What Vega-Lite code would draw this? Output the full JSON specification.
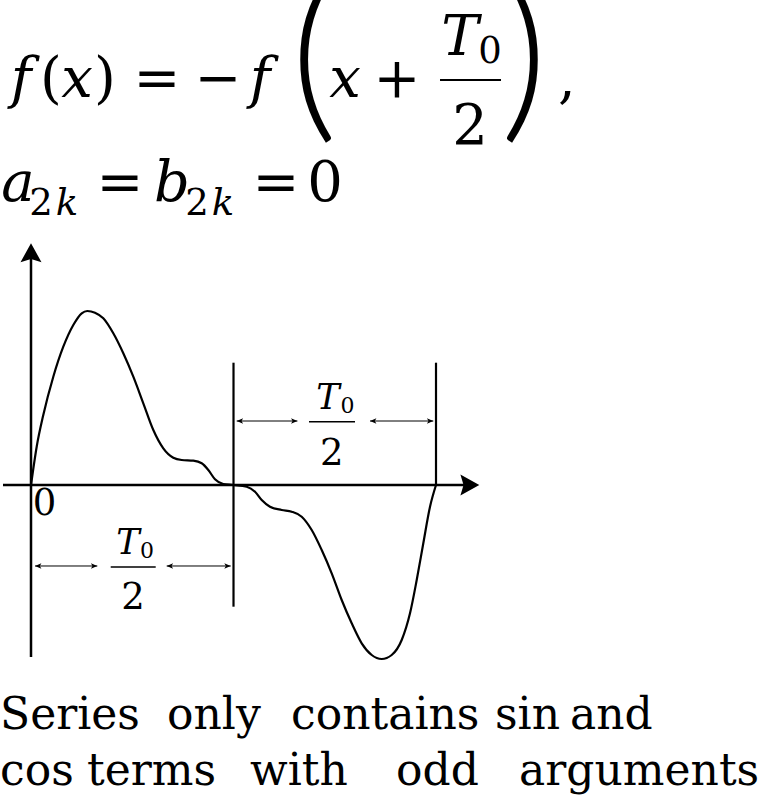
{
  "$schema": "https://vega.github.io/schema/vega-lite/v6.json",
  "width": 761,
  "height": 805,
  "autosize": "none",
  "padding": 0,
  "background": "white",
  "config": {"view": {"stroke": null}},
  "datasets": {
    "curve": [
      {"x": 0, "y": 0}, {"x": 0.0281, "y": 0.2201}, {"x": 0.0607, "y": 0.4023}, {"x": 0.1101, "y": 0.6224},
      {"x": 0.1595, "y": 0.7948}, {"x": 0.2089, "y": 0.9195}, {"x": 0.2504, "y": 0.9868}, {"x": 0.278, "y": 1.0},
      {"x": 0.316, "y": 0.9902}, {"x": 0.357, "y": 0.958}, {"x": 0.4064, "y": 0.8718}, {"x": 0.4558, "y": 0.7569},
      {"x": 0.5052, "y": 0.6224}, {"x": 0.5546, "y": 0.4695}, {"x": 0.604, "y": 0.3161}, {"x": 0.6533, "y": 0.2109},
      {"x": 0.7027, "y": 0.1569}, {"x": 0.7442, "y": 0.1437}, {"x": 0.8015, "y": 0.1397}, {"x": 0.843, "y": 0.1247},
      {"x": 0.8756, "y": 0.0862}, {"x": 0.9086, "y": 0.0328}, {"x": 0.9496, "y": 0.0057}, {"x": 1.0, "y": 0},
      {"x": 1.0652, "y": -0.0098}, {"x": 1.1062, "y": -0.0385}, {"x": 1.1393, "y": -0.0862}, {"x": 1.1802, "y": -0.1247},
      {"x": 1.238, "y": -0.1437}, {"x": 1.2874, "y": -0.1534}, {"x": 1.3368, "y": -0.1822}, {"x": 1.3862, "y": -0.2586},
      {"x": 1.4356, "y": -0.3736}, {"x": 1.4849, "y": -0.5075}, {"x": 1.5343, "y": -0.6609}, {"x": 1.5837, "y": -0.7948},
      {"x": 1.6331, "y": -0.9098}, {"x": 1.6825, "y": -0.977}, {"x": 1.7319, "y": -1.0}, {"x": 1.7812, "y": -0.977},
      {"x": 1.8306, "y": -0.8908}, {"x": 1.8716, "y": -0.7374}, {"x": 1.9047, "y": -0.546}, {"x": 1.9373, "y": -0.3351},
      {"x": 1.9704, "y": -0.1247}, {"x": 2.0, "y": 0}
    ],
    "thick": [
      {"x": 0, "y": -0.9885, "xe": 0, "ye": 1.33},
      {"x": -0.1383, "y": 0, "xe": 2.16, "ye": 0}
    ],
    "vlines": [
      {"x": 1.0, "y": -0.6994, "xe": 1.0, "ye": 0.7029},
      {"x": 2.0, "y": 0, "xe": 2.0, "ye": 0.7029}
    ],
    "arrows": [
      {"x": 1.0158, "xe": 1.3156, "y": 0.3678},
      {"x": 1.6741, "xe": 1.9867, "y": 0.3678},
      {"x": 0.0198, "xe": 0.3274, "y": -0.4655},
      {"x": 0.6701, "xe": 0.9862, "y": -0.4655}
    ],
    "bars": [
      {"x": 1.3728, "xe": 1.6, "y": 0.3638},
      {"x": 0.3936, "xe": 0.6158, "y": -0.4713}
    ],
    "fbar": [{"x": 2.0198, "xe": 2.321, "y": 2.3276}],
    "upArrow": [{"x": 0, "y": 1.3891}],
    "rightArrow": [{"x": 2.2138, "y": 0}],
    "mathItalic": [
      {"t": "f", "x": -0.0494, "y": 2.2299}, {"t": "x", "x": 0.2272, "y": 2.2299}, {"t": "f", "x": 1.1309, "y": 2.2299},
      {"t": "x", "x": 1.5506, "y": 2.2299}, {"t": "T", "x": 2.1185, "y": 2.4713},
      {"t": "a", "x": -0.0642, "y": 1.6322}, {"t": "b", "x": 0.6963, "y": 1.6322}
    ],
    "mathUpright": [
      {"t": "(", "x": 0.0988, "y": 2.2299}, {"t": ")", "x": 0.3654, "y": 2.2299}, {"t": "=", "x": 0.6222, "y": 2.2299},
      {"t": "−", "x": 0.9235, "y": 2.2299}, {"t": "+", "x": 1.8074, "y": 2.2299}, {"t": "2", "x": 2.1679, "y": 1.9598},
      {"t": ",", "x": 2.6469, "y": 2.2299}, {"t": "=", "x": 0.4395, "y": 1.6322}, {"t": "=", "x": 1.2099, "y": 1.6322},
      {"t": "0", "x": 1.4519, "y": 1.6322}
    ],
    "subUpright": [
      {"t": "0", "x": 2.2667, "y": 2.4253}, {"t": "2", "x": 0.0494, "y": 1.5517}, {"t": "2", "x": 0.8198, "y": 1.5517}
    ],
    "subItalic": [
      {"t": "k", "x": 0.1778, "y": 1.5517}, {"t": "k", "x": 0.9481, "y": 1.5517}
    ],
    "bigParen": [
      {"t": "(", "x": 1.3975, "y": 2.1092}, {"t": ")", "x": 2.4346, "y": 2.1092}
    ],
    "diagItalic": [
      {"t": "T", "x": 1.4667, "y": 0.4368}, {"t": "T", "x": 0.479, "y": -0.3966}
    ],
    "diagSub": [
      {"t": "0", "x": 1.563, "y": 0.4138}, {"t": "0", "x": 0.5728, "y": -0.4195}
    ],
    "diagUpright": [
      {"t": "2", "x": 1.4849, "y": 0.1149}, {"t": "2", "x": 0.5037, "y": -0.7144}, {"t": "0", "x": 0.0667, "y": -0.1724}
    ],
    "words": [
      {"t": "Series", "x": -0.1531, "y": -1.4023}, {"t": "only", "x": 0.6716, "y": -1.4023},
      {"t": "contains", "x": 1.284, "y": -1.4023}, {"t": "sin", "x": 2.2914, "y": -1.4023},
      {"t": "and", "x": 2.6617, "y": -1.4023},
      {"t": "cos", "x": -0.1531, "y": -1.7241}, {"t": "terms", "x": 0.2765, "y": -1.7241},
      {"t": "with", "x": 1.0815, "y": -1.7241}, {"t": "odd", "x": 1.8025, "y": -1.7241},
      {"t": "arguments", "x": 2.4099, "y": -1.7241}
    ]
  },
  "encoding": {
    "x": {"field": "x", "type": "quantitative", "scale": {"domain": [-0.1531, 3.6049], "nice": false, "zero": false}, "axis": null},
    "y": {"field": "y", "type": "quantitative", "scale": {"domain": [-1.8391, 2.7874], "nice": false, "zero": false}, "axis": null}
  },
  "layer": [
    {
      "data": {"name": "curve"},
      "mark": {"type": "line", "interpolate": "monotone", "color": "black", "strokeWidth": 2.2}
    },
    {
      "data": {"name": "thick"},
      "mark": {"type": "rule", "color": "black", "strokeWidth": 2.5},
      "encoding": {"x2": {"field": "xe"}, "y2": {"field": "ye"}}
    },
    {
      "data": {"name": "vlines"},
      "mark": {"type": "rule", "color": "black", "strokeWidth": 2.2},
      "encoding": {"x2": {"field": "xe"}, "y2": {"field": "ye"}}
    },
    {
      "data": {"name": "arrows"},
      "mark": {"type": "rule", "color": "black", "strokeWidth": 1},
      "encoding": {"x2": {"field": "xe"}}
    },
    {
      "data": {"name": "bars"},
      "mark": {"type": "rule", "color": "black", "strokeWidth": 1.6},
      "encoding": {"x2": {"field": "xe"}}
    },
    {
      "data": {"name": "fbar"},
      "mark": {"type": "rule", "color": "black", "strokeWidth": 2.2},
      "encoding": {"x2": {"field": "xe"}}
    },
    {
      "data": {"name": "arrows"},
      "mark": {"type": "point", "filled": true, "color": "black", "opacity": 1, "strokeWidth": 0, "size": 64, "shape": "M0,0 L1.6,-0.7 L1.2,0 L1.6,0.7 Z"}
    },
    {
      "data": {"name": "arrows"},
      "mark": {"type": "point", "filled": true, "color": "black", "opacity": 1, "strokeWidth": 0, "size": 64, "shape": "M0,0 L-1.6,-0.7 L-1.2,0 L-1.6,0.7 Z"},
      "encoding": {
        "x": {"field": "xe", "type": "quantitative", "scale": {"domain": [-0.1531, 3.6049], "nice": false, "zero": false}, "axis": null}
      }
    },
    {
      "data": {"name": "upArrow"},
      "mark": {"type": "point", "filled": true, "color": "black", "opacity": 1, "strokeWidth": 0, "size": 441, "shape": "M0,0 L1,1.8 L0,1.5 L-1,1.8 Z"}
    },
    {
      "data": {"name": "rightArrow"},
      "mark": {"type": "point", "filled": true, "color": "black", "opacity": 1, "strokeWidth": 0, "size": 441, "shape": "M0,0 L-1.8,-1 L-1.5,0 L-1.8,1 Z"}
    },
    {
      "data": {"name": "mathItalic"},
      "mark": {"type": "text", "font": "DejaVu Serif", "fontStyle": "italic", "fontSize": 56, "align": "center", "baseline": "alphabetic", "color": "black"},
      "encoding": {"text": {"field": "t"}}
    },
    {
      "data": {"name": "mathUpright"},
      "mark": {"type": "text", "font": "DejaVu Serif", "fontSize": 56, "align": "center", "baseline": "alphabetic", "color": "black"},
      "encoding": {"text": {"field": "t"}}
    },
    {
      "data": {"name": "subUpright"},
      "mark": {"type": "text", "font": "DejaVu Serif", "fontSize": 37, "align": "center", "baseline": "alphabetic", "color": "black"},
      "encoding": {"text": {"field": "t"}}
    },
    {
      "data": {"name": "subItalic"},
      "mark": {"type": "text", "font": "DejaVu Serif", "fontStyle": "italic", "fontSize": 37, "align": "center", "baseline": "alphabetic", "color": "black"},
      "encoding": {"text": {"field": "t"}}
    },
    {
      "data": {"name": "bigParen"},
      "mark": {"type": "text", "font": "Lato", "fontWeight": 300, "fontSize": 186, "align": "center", "baseline": "alphabetic", "color": "black"},
      "encoding": {"text": {"field": "t"}}
    },
    {
      "data": {"name": "diagItalic"},
      "mark": {"type": "text", "font": "DejaVu Serif", "fontStyle": "italic", "fontSize": 35, "align": "center", "baseline": "alphabetic", "color": "black"},
      "encoding": {"text": {"field": "t"}}
    },
    {
      "data": {"name": "diagSub"},
      "mark": {"type": "text", "font": "DejaVu Serif", "fontSize": 22, "align": "center", "baseline": "alphabetic", "color": "black"},
      "encoding": {"text": {"field": "t"}}
    },
    {
      "data": {"name": "diagUpright"},
      "mark": {"type": "text", "font": "DejaVu Serif", "fontSize": 37, "align": "center", "baseline": "alphabetic", "color": "black"},
      "encoding": {"text": {"field": "t"}}
    },
    {
      "data": {"name": "words"},
      "mark": {"type": "text", "font": "DejaVu Serif", "fontSize": 44, "align": "left", "baseline": "alphabetic", "color": "black"},
      "encoding": {"text": {"field": "t"}}
    }
  ]
}
